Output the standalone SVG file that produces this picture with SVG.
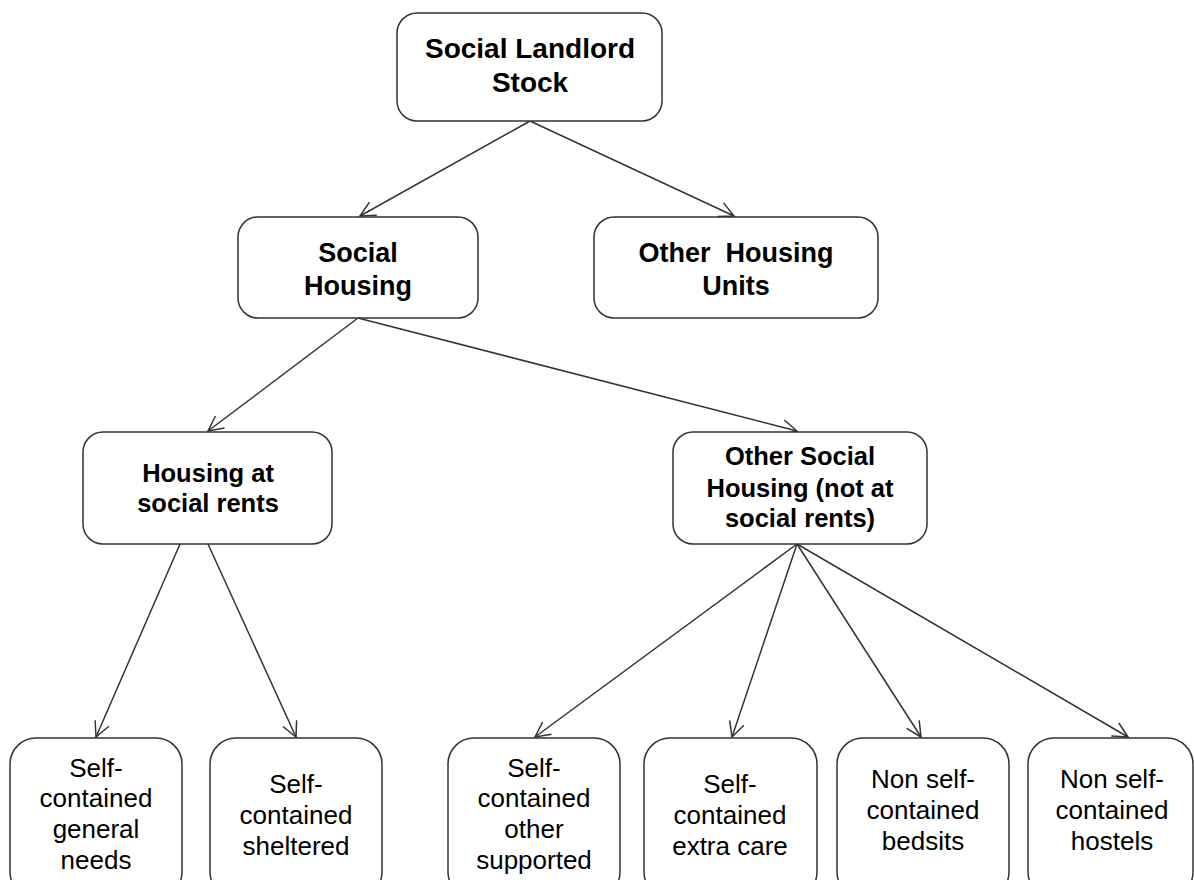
<svg xmlns="http://www.w3.org/2000/svg" width="1194" height="880" viewBox="0 0 1194 880">
<style>
.box{fill:#fff;stroke:#333;stroke-width:1.5}
.h{font-family:"Liberation Sans",Arial,sans-serif;font-weight:bold;fill:#000;text-anchor:middle;white-space:pre}
.t{font-family:"Liberation Sans",Arial,sans-serif;font-size:26px;fill:#000;text-anchor:middle}
.c{stroke:#333;stroke-width:1.5;fill:none;marker-end:url(#arr)}
</style>
<defs>
<marker id="arr" viewBox="0 0 20 20" refX="18" refY="10" markerWidth="20" markerHeight="20" markerUnits="userSpaceOnUse" orient="auto">
<path d="M3,2.5 L18,10 L3,17.5" fill="none" stroke="#333" stroke-width="1.5"/>
</marker>
</defs>
<rect width="1194" height="880" fill="#fff"/>
<g id="connectors">
<line class="c" x1="530" y1="121" x2="360" y2="216"/>
<line class="c" x1="530" y1="121" x2="734" y2="216"/>
<line class="c" x1="358" y1="318" x2="208" y2="431"/>
<line class="c" x1="358" y1="318" x2="797" y2="431"/>
<line class="c" x1="180" y1="544" x2="96" y2="737"/>
<line class="c" x1="208" y1="544" x2="296" y2="737"/>
<line class="c" x1="797" y1="544" x2="535" y2="737"/>
<line class="c" x1="797" y1="544" x2="732" y2="737"/>
<line class="c" x1="797" y1="544" x2="921" y2="737"/>
<line class="c" x1="797" y1="544" x2="1128" y2="737"/>
</g>
<g id="n-stock">
<rect class="box" x="397" y="13" width="265" height="108" rx="20"/>
<text class="h" font-size="28" x="530" y="58">Social Landlord</text>
<text class="h" font-size="28" x="530" y="92">Stock</text>
</g>
<g id="n-social">
<rect class="box" x="238" y="217" width="240" height="101" rx="20"/>
<text class="h" font-size="27" x="358" y="262">Social</text>
<text class="h" font-size="27" x="358" y="295">Housing</text>
</g>
<g id="n-other-units">
<rect class="box" x="594" y="217" width="284" height="101" rx="20"/>
<text class="h" font-size="27" x="736" y="262">Other  Housing</text>
<text class="h" font-size="27" x="736" y="295">Units</text>
</g>
<g id="n-rents">
<rect class="box" x="83" y="432" width="249" height="112" rx="20"/>
<text class="h" font-size="25.5" x="208" y="482">Housing at</text>
<text class="h" font-size="25.5" x="208" y="512">social rents</text>
</g>
<g id="n-other-social">
<rect class="box" x="673" y="432" width="254" height="112" rx="20"/>
<text class="h" font-size="25.5" x="800" y="465">Other Social</text>
<text class="h" font-size="25.5" x="800" y="497">Housing (not at</text>
<text class="h" font-size="25.5" x="800" y="527">social rents)</text>
</g>
<g id="n-general">
<rect class="box" x="10" y="738" width="172" height="160" rx="26"/>
<text class="t" x="96" y="777">Self-</text>
<text class="t" x="96" y="807">contained</text>
<text class="t" x="96" y="838">general</text>
<text class="t" x="96" y="869">needs</text>
</g>
<g id="n-sheltered">
<rect class="box" x="210" y="738" width="172" height="160" rx="26"/>
<text class="t" x="296" y="793">Self-</text>
<text class="t" x="296" y="824">contained</text>
<text class="t" x="296" y="855">sheltered</text>
</g>
<g id="n-supported">
<rect class="box" x="448" y="738" width="172" height="160" rx="26"/>
<text class="t" x="534" y="777">Self-</text>
<text class="t" x="534" y="807">contained</text>
<text class="t" x="534" y="838">other</text>
<text class="t" x="534" y="869">supported</text>
</g>
<g id="n-extracare">
<rect class="box" x="644" y="738" width="173" height="160" rx="26"/>
<text class="t" x="730" y="793">Self-</text>
<text class="t" x="730" y="824">contained</text>
<text class="t" x="730" y="855">extra care</text>
</g>
<g id="n-bedsits">
<rect class="box" x="837" y="738" width="172" height="160" rx="26"/>
<text class="t" x="923" y="788">Non self-</text>
<text class="t" x="923" y="819">contained</text>
<text class="t" x="923" y="850">bedsits</text>
</g>
<g id="n-hostels">
<rect class="box" x="1028" y="738" width="165" height="160" rx="26"/>
<text class="t" x="1112" y="788">Non self-</text>
<text class="t" x="1112" y="819">contained</text>
<text class="t" x="1112" y="850">hostels</text>
</g>
</svg>
